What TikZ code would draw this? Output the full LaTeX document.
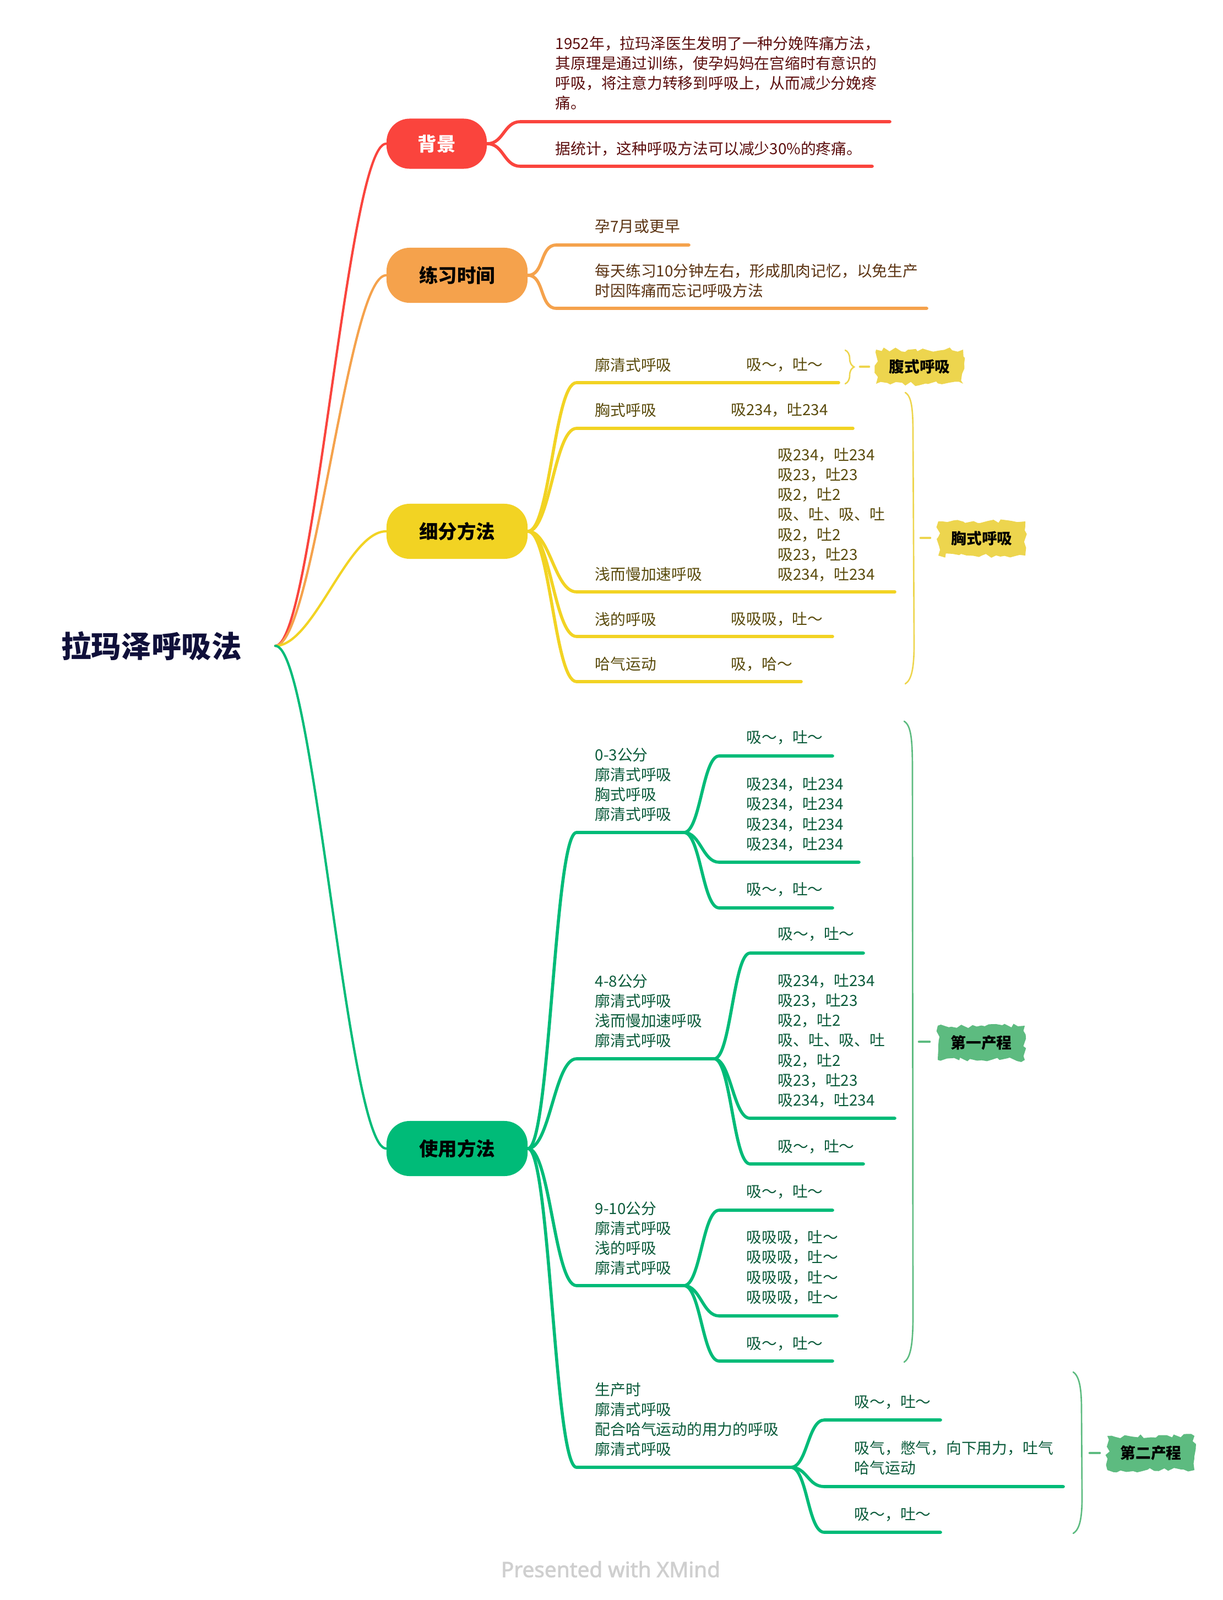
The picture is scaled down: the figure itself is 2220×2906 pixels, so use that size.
\documentclass[tikz,border=0pt]{standalone}
\usepackage{fontspec}
\setmainfont{Noto Sans CJK SC}
\newfontfamily\footfont{Noto Sans}[FakeBold=2]
\usetikzlibrary{decorations.pathreplacing, decorations.pathmorphing}

\definecolor{cRed}{HTML}{FA443D}
\definecolor{cOra}{HTML}{F5A24C}
\definecolor{cYel}{HTML}{F2D323}
\definecolor{cGrn}{HTML}{00BB78}
\definecolor{cRoot}{HTML}{10103A}
\definecolor{tRed}{HTML}{5C0E0E}
\definecolor{tOra}{HTML}{5B3312}
\definecolor{tYel}{HTML}{5A4B0C}
\definecolor{tGrn}{HTML}{0B5B3B}
\definecolor{sYel}{HTML}{EDD54E}
\definecolor{sGrn}{HTML}{5DBB80}
\definecolor{cFoot}{HTML}{CFCFCF}

\tikzset{
    rootlabel/.style = {inner sep=0pt, text=cRoot, font=\fontsize{15.5}{18}\selectfont\bfseries},
    pill/.style = {rectangle, rounded corners=0.42cm, minimum width=2.56cm, minimum height=1cm, inner sep=0pt, text=black, font=\fontsize{9.8}{12}\selectfont\bfseries},
    leaf/.style = {anchor=west, inner sep=0pt, align=left, font=\fontsize{7.9}{10.25}\selectfont},
    branch/.style = {line width=1.6pt, line cap=round},
    rootline/.style = {line width=1.2pt, line cap=round},
    bracket/.style = {line width=0.75pt, line cap=round},
    sumbox/.style = {rectangle, minimum width=1.58cm, minimum height=0.62cm, inner sep=0pt, text=black, font=\fontsize{7.9}{10}\selectfont\bfseries, decorate, decoration={random steps, segment length=2.5pt, amplitude=1.2pt}}
}

\begin{document}
\begin{tikzpicture}[x=0.01cm, y=-0.01cm]
\useasboundingbox (0,0) rectangle (2220,2906);

% central topic
\node[rootlabel] (root) at (275,1173) {拉玛泽呼吸法};
\coordinate (hub) at (500,1173);

% main topics
\node[pill, fill=cRed, text=white, minimum width=1.82cm, minimum height=0.91cm] (bg) at (793,261) {背景};
\node[pill, fill=cOra] (lx) at (830,500) {练习时间};
\node[pill, fill=cYel] (xf) at (830,965) {细分方法};
\node[pill, fill=cGrn] (sy) at (830,2086) {使用方法};

\draw[rootline, cRed] (hub) .. controls +(70,0) and +(-70,0) .. (bg.west);
\draw[rootline, cOra] (hub) .. controls +(70,0) and +(-70,0) .. (lx.west);
\draw[rootline, cYel] (hub) .. controls +(70,0) and +(-70,0) .. (xf.west);
\draw[rootline, cGrn] (hub) .. controls +(70,0) and +(-70,0) .. (sy.west);

% background
\coordinate (r1-a) at (945,221); \coordinate (r1-b) at (1616,221);
\coordinate (r2-a) at (945,302); \coordinate (r2-b) at (1584,302);
\node[leaf, text=tRed] (r1) at (1008,133) {1952年，拉玛泽医生发明了一种分娩阵痛方法，\\其原理是通过训练，使孕妈妈在宫缩时有意识的\\呼吸，将注意力转移到呼吸上，从而减少分娩疼\\痛。};
\node[leaf, text=tRed] (r2) at (1008,270) {据统计，这种呼吸方法可以减少30\%的疼痛。};
\foreach \s in {r1,r2}
    \draw[branch, cRed] (bg.east) .. controls +(30,0) and +(-30,0) .. (\s-a) -- (\s-b);

% practice time
\coordinate (o1-a) at (1010,445); \coordinate (o1-b) at (1251,445);
\coordinate (o2-a) at (1010,560); \coordinate (o2-b) at (1683,560);
\node[leaf, text=tOra] (o1) at (1080,411) {孕7月或更早};
\node[leaf, text=tOra] (o2) at (1080,510) {每天练习10分钟左右，形成肌肉记忆，以免生产\\时因阵痛而忘记呼吸方法};
\foreach \s in {o1,o2}
    \draw[branch, cOra] (lx.east) .. controls +(30,0) and +(-30,0) .. (\s-a) -- (\s-b);

% methods
\coordinate (y1-a) at (1047,695);  \coordinate (y1-b) at (1310,695);  \coordinate (y1-d) at (1523,695);
\coordinate (y2-a) at (1047,778);  \coordinate (y2-b) at (1300,778);  \coordinate (y2-d) at (1549,778);
\coordinate (y3-a) at (1047,1075); \coordinate (y3-b) at (1385,1075); \coordinate (y3-d) at (1625,1075);
\coordinate (y4-a) at (1047,1156); \coordinate (y4-b) at (1300,1156); \coordinate (y4-d) at (1512,1156);
\coordinate (y5-a) at (1047,1238); \coordinate (y5-b) at (1300,1238); \coordinate (y5-d) at (1455,1238);
\node[leaf, text=tYel] (y1) at (1080,663) {廓清式呼吸};
\node[leaf, text=tYel] (y1k) at (1355,663) {吸～，吐～};
\node[leaf, text=tYel] (y2) at (1080,745) {胸式呼吸};
\node[leaf, text=tYel] (y2k) at (1327,745) {吸234，吐234};
\node[leaf, text=tYel] (y3) at (1080,1043) {浅而慢加速呼吸};
\node[leaf, text=tYel] (y3k) at (1412,935) {吸234，吐234\\吸23，吐23\\吸2，吐2\\吸、吐、吸、吐\\吸2，吐2\\吸23，吐23\\吸234，吐234};
\node[leaf, text=tYel] (y4) at (1080,1125) {浅的呼吸};
\node[leaf, text=tYel] (y4k) at (1327,1125) {吸吸吸，吐～};
\node[leaf, text=tYel] (y5) at (1080,1206) {哈气运动};
\node[leaf, text=tYel] (y5k) at (1327,1206) {吸，哈～};
\foreach \s in {y1,y2,y3,y4,y5}{
    \draw[branch, cYel] (xf.east) .. controls +(40,0) and +(-40,0) .. (\s-a) -- (\s-b);
    \draw[branch, cYel] (\s-b) -- (\s-d);
}

% summaries of methods
\draw[bracket, sYel, decorate, decoration={brace, amplitude=0.16cm}] (1535,636) -- (1535,697);
\node[sumbox, fill=sYel] (sm1) at (1670,666) {腹式呼吸};
\coordinate (t1) at (1562,666);
\draw[bracket, sYel, line width=1.3pt] (t1) -- +(16,0);

\coordinate (b2-t) at (1644,713); \coordinate (b2-b) at (1644,1242);
\draw[bracket, sYel] (b2-t) .. controls (1656,720) and (1658,745) .. (1658,790) -- (1660,1170)
    .. controls (1660,1215) and (1655,1235) .. (b2-b);
\node[sumbox, fill=sYel] (sm2) at (1783,978) {胸式呼吸};
\coordinate (t2) at (1672,977);
\draw[bracket, sYel, line width=1.3pt] (t2) -- +(17,0);

% usage
\node[leaf, text=tGrn] (gA) at (1080,1425) {0-3公分\\廓清式呼吸\\胸式呼吸\\廓清式呼吸};
\node[leaf, text=tGrn] (gB) at (1080,1836) {4-8公分\\廓清式呼吸\\浅而慢加速呼吸\\廓清式呼吸};
\node[leaf, text=tGrn] (gC) at (1080,2249) {9-10公分\\廓清式呼吸\\浅的呼吸\\廓清式呼吸};
\node[leaf, text=tGrn] (gD) at (1080,2578) {生产时\\廓清式呼吸\\配合哈气运动的用力的呼吸\\廓清式呼吸};
\coordinate (gA-a) at (1047,1512); \coordinate (gA-b) at (1242,1512);
\coordinate (gB-a) at (1047,1923); \coordinate (gB-b) at (1297,1923);
\coordinate (gC-a) at (1047,2335); \coordinate (gC-b) at (1242,2335);
\coordinate (gD-a) at (1047,2665); \coordinate (gD-b) at (1436,2665);
\foreach \s in {gA,gB,gC,gD}
    \draw[branch, cGrn] (sy.east) .. controls +(40,0) and +(-40,0) .. (\s-a) -- (\s-b);

% 0-3
\node[leaf, text=tGrn] (a1) at (1355,1340) {吸～，吐～};
\node[leaf, text=tGrn] (a2) at (1355,1479) {吸234，吐234\\吸234，吐234\\吸234，吐234\\吸234，吐234};
\node[leaf, text=tGrn] (a3) at (1355,1616) {吸～，吐～};
\coordinate (a1-a) at (1306,1373); \coordinate (a1-b) at (1512,1373);
\coordinate (a2-a) at (1306,1566); \coordinate (a2-b) at (1560,1566);
\coordinate (a3-a) at (1306,1649); \coordinate (a3-b) at (1512,1649);
\foreach \c in {a1,a2,a3}
    \draw[branch, cGrn] (gA-b) .. controls +(30,0) and +(-30,0) .. (\c-a) -- (\c-b);

% 4-8
\node[leaf, text=tGrn] (b1) at (1412,1697) {吸～，吐～};
\node[leaf, text=tGrn] (b2) at (1412,1890) {吸234，吐234\\吸23，吐23\\吸2，吐2\\吸、吐、吸、吐\\吸2，吐2\\吸23，吐23\\吸234，吐234};
\node[leaf, text=tGrn] (b3) at (1412,2083) {吸～，吐～};
\coordinate (b1-a) at (1362,1731); \coordinate (b1-b) at (1568,1731);
\coordinate (b2-a) at (1362,2031); \coordinate (b2-b) at (1625,2031);
\coordinate (b3-a) at (1362,2114); \coordinate (b3-b) at (1568,2114);
\foreach \c in {b1,b2,b3}
    \draw[branch, cGrn] (gB-b) .. controls +(30,0) and +(-30,0) .. (\c-a) -- (\c-b);

% 9-10
\node[leaf, text=tGrn] (c1) at (1355,2164) {吸～，吐～};
\node[leaf, text=tGrn] (c2) at (1355,2302) {吸吸吸，吐～\\吸吸吸，吐～\\吸吸吸，吐～\\吸吸吸，吐～};
\node[leaf, text=tGrn] (c3) at (1355,2440) {吸～，吐～};
\coordinate (c1-a) at (1306,2198); \coordinate (c1-b) at (1512,2198);
\coordinate (c2-a) at (1306,2390); \coordinate (c2-b) at (1520,2390);
\coordinate (c3-a) at (1306,2472); \coordinate (c3-b) at (1512,2472);
\foreach \c in {c1,c2,c3}
    \draw[branch, cGrn] (gC-b) .. controls +(30,0) and +(-30,0) .. (\c-a) -- (\c-b);

% labour
\node[leaf, text=tGrn] (d1) at (1551,2546) {吸～，吐～};
\node[leaf, text=tGrn] (d2) at (1551,2648) {吸气，憋气，向下用力，吐气\\哈气运动};
\node[leaf, text=tGrn] (d3) at (1551,2750) {吸～，吐～};
\coordinate (d1-a) at (1497,2579); \coordinate (d1-b) at (1708,2579);
\coordinate (d2-a) at (1497,2700); \coordinate (d2-b) at (1931,2700);
\coordinate (d3-a) at (1497,2783); \coordinate (d3-b) at (1708,2783);
\foreach \c in {d1,d2,d3}
    \draw[branch, cGrn] (gD-b) .. controls +(30,0) and +(-30,0) .. (\c-a) -- (\c-b);

% summaries of usage
\coordinate (b3-t) at (1642,1310); \coordinate (b3-e) at (1642,2474);
\draw[bracket, sGrn] (b3-t) .. controls (1655,1318) and (1657,1345) .. (1657,1400) -- (1658,2390)
    .. controls (1658,2445) and (1653,2466) .. (b3-e);
\node[sumbox, fill=sGrn] (sm3) at (1782,1894) {第一产程};
\coordinate (t3) at (1669,1892);
\draw[bracket, sGrn, line width=1.3pt] (t3) -- +(19,0);

\coordinate (b4-t) at (1949,2492); \coordinate (b4-e) at (1949,2785);
\draw[bracket, sGrn] (b4-t) .. controls (1961,2500) and (1964,2525) .. (1964,2560) -- (1965,2720)
    .. controls (1965,2760) and (1960,2778) .. (b4-e);
\node[sumbox, fill=sGrn] (sm4) at (2090,2639) {第二产程};
\coordinate (t4) at (1979,2639);
\draw[bracket, sGrn, line width=1.3pt] (t4) -- +(18,0);

% footer
\node[text=cFoot, font=\footfont\fontsize{11}{13}\selectfont] (foot) at (1109,2850) {Presented with XMind};
\end{tikzpicture}
\end{document}
